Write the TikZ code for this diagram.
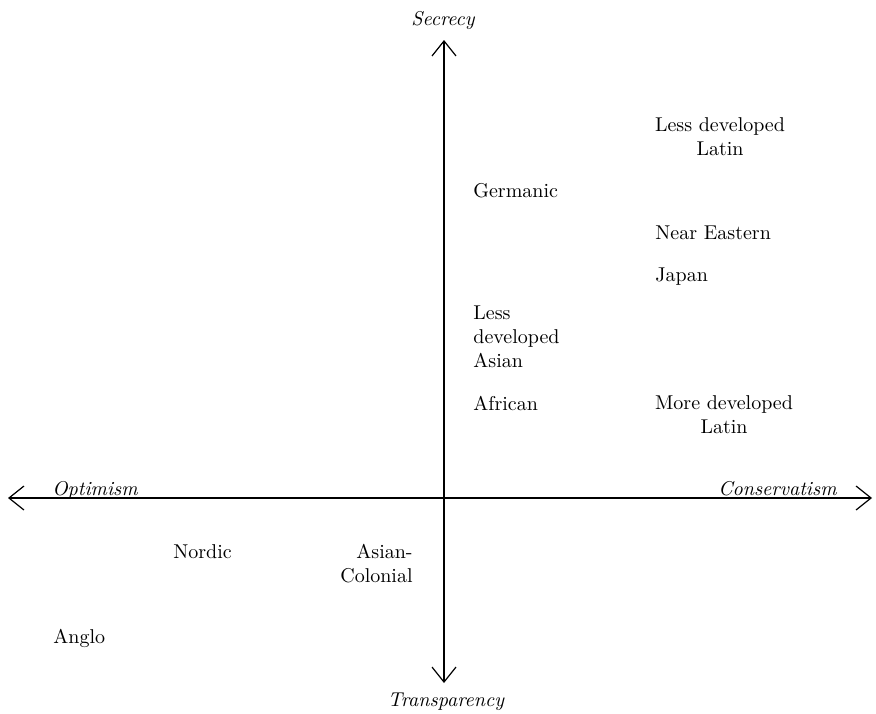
\documentclass[tikz,border=0pt]{standalone}
\usetikzlibrary{arrows.meta}
\begin{document}
\begin{tikzpicture}[x=0.5pt,y=-0.5pt,
  axisline/.style={line width=0.6pt,{Straight Barb[length=7.5pt,width=12pt]}-{Straight Barb[length=7.5pt,width=12pt]}},
  axislabel/.style={inner sep=0pt,font=\itshape},
  region/.style={inner sep=0pt}]
\useasboundingbox (0,0) rectangle (876,713);

\coordinate (left) at (8,498);
\coordinate (right) at (872,498);
\coordinate (top) at (444,40);
\coordinate (bottom) at (444,683);
\draw[axisline] (left) -- (right);
\draw[axisline] (bottom) -- (top);

\node[axislabel,anchor=base] (secrecy) at (443,25) {Secrecy};
\node[axislabel,anchor=base] (transparency) at (446,706) {Transparency};
\node[axislabel,anchor=base west] (optimism) at (52,495) {Optimism};
\node[axislabel,anchor=base east] (conservatism) at (837,495) {Conservatism};

% multi-line nodes: base is the last line
\node[region,anchor=base west] (germanic) at (473,197) {Germanic};
\node[region,anchor=base,align=center] (ldlatin) at (720,155) {Less developed\\Latin};
\node[region,anchor=base west] (neareastern) at (655,239) {Near Eastern};
\node[region,anchor=base west] (japan) at (655,281) {Japan};
\node[region,anchor=base west,align=left] (ldasian) at (473,367) {Less\\developed\\Asian};
\node[region,anchor=base west] (african) at (473,410) {African};
\node[region,anchor=base,align=center] (mdlatin) at (724,433) {More developed\\Latin};

\node[region,anchor=base west] (nordic) at (173,558) {Nordic};
\node[region,anchor=base east,align=right] (asiancolonial) at (413,582) {Asian-\\Colonial};
\node[region,anchor=base west] (anglo) at (53,643) {Anglo};
\end{tikzpicture}
\end{document}
